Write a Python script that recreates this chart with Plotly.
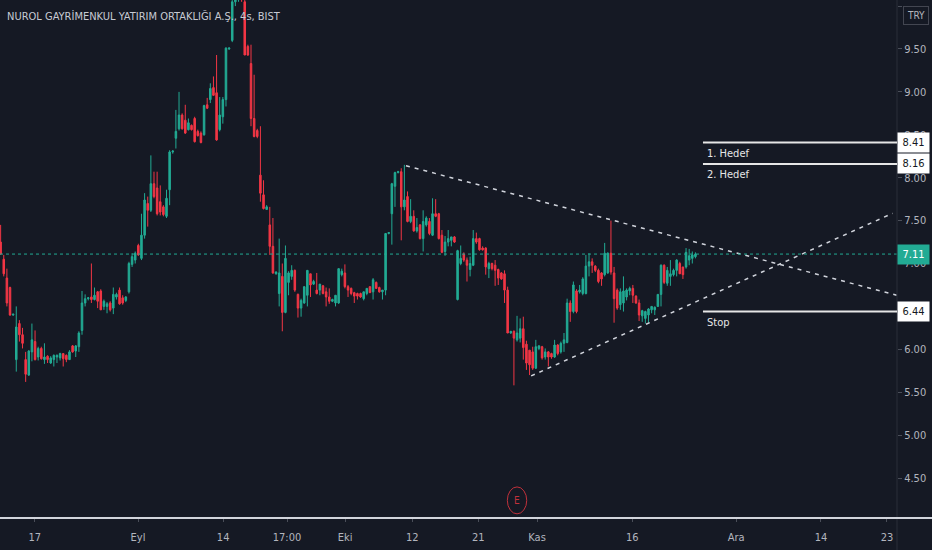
import plotly.graph_objects as go

# --- veri: 4 saatlik mumlar (grafikten okunan yaklaşık değerler) ---
opens = [
    7.25, 7.05, 6.83, 6.72, 6.40, 5.88, 6.30, 6.17, 5.88, 5.70,
    5.97, 6.09, 5.91, 6.01, 5.88, 5.92, 5.84, 5.88, 5.91, 5.90,
    5.95, 5.93, 5.88, 6.04, 5.98, 6.03, 6.22, 6.54, 6.59, 6.61,
    6.58, 6.67, 6.68, 6.50, 6.50, 6.54, 6.48, 6.61, 6.69, 6.60,
    6.57, 6.67, 6.99, 7.04, 7.21, 7.06, 7.33, 7.70, 7.62, 7.93,
    7.88, 7.72, 7.66, 7.55, 7.86, 8.30, 8.46, 8.57, 8.73, 8.67,
    8.56, 8.61, 8.69, 8.54, 8.52, 8.50, 8.85, 8.91, 9.05, 8.99,
    8.56, 8.71, 8.91, 9.50, 9.60, 10.05, 10.10, 10.15, 10.05, 9.53,
    9.33, 8.69, 8.55, 8.03, 7.80, 7.63, 7.45, 7.20, 6.88, 6.65,
    6.85, 6.43, 6.78, 6.85, 6.92, 6.64, 6.48, 6.54, 6.63, 6.88,
    6.76, 6.69, 6.69, 6.74, 6.67, 6.61, 6.56, 6.54, 6.54, 6.87,
    6.89, 6.73, 6.71, 6.66, 6.65, 6.65, 6.59, 6.65, 6.73, 6.67,
    6.78, 6.72, 6.67, 6.69, 7.35, 7.58, 7.90, 8.06, 8.07, 7.66,
    7.78, 7.49, 7.55, 7.38, 7.45, 7.29, 7.45, 7.49, 7.33, 7.58,
    7.58, 7.33, 7.14, 7.25, 7.27, 7.31, 6.58, 7.00, 7.11, 7.04,
    6.93, 6.98, 7.29, 7.29, 7.18, 7.18, 6.94, 7.00, 6.98, 6.93,
    6.89, 6.88, 6.69, 6.19, 6.21, 6.11, 6.13, 6.24, 6.06, 5.99,
    5.97, 5.78, 6.01, 6.03, 5.91, 5.97, 5.95, 5.91, 6.05, 5.97,
    6.07, 6.08, 6.54, 6.44, 6.68, 6.67, 6.65, 6.65, 6.97, 7.02,
    6.97, 6.92, 6.89, 6.87, 6.89, 7.12, 6.89, 6.69, 6.52, 6.54,
    6.61, 6.68, 6.71, 6.62, 6.54, 6.39, 6.36, 6.40, 6.46, 6.46,
    6.50, 6.64, 6.98, 6.77, 6.85, 6.87, 6.92, 7.00, 6.96, 6.96,
    7.04, 7.06, 7.08,
]
highs = [
    7.45, 7.10, 6.94, 6.73, 6.41, 6.50, 6.34, 6.25, 5.97, 5.99,
    6.30, 6.22, 6.03, 6.03, 6.07, 5.93, 5.92, 5.94, 5.94, 5.96,
    5.95, 5.94, 5.99, 6.05, 6.05, 6.21, 6.68, 6.64, 6.61, 7.00,
    6.72, 6.68, 6.70, 6.58, 6.55, 6.56, 6.72, 6.66, 6.72, 6.63,
    6.62, 7.02, 7.12, 7.14, 7.23, 7.58, 7.82, 7.78, 8.26, 8.07,
    8.07, 7.91, 7.68, 7.86, 8.32, 8.32, 8.79, 9.00, 8.75, 8.85,
    8.69, 8.62, 8.71, 8.56, 8.54, 8.85, 8.93, 9.10, 9.18, 9.43,
    8.94, 8.94, 9.52, 9.52, 10.20, 10.25, 10.30, 10.30, 10.15, 9.55,
    9.55, 9.20, 8.57, 8.60, 7.97, 7.68, 7.66, 7.53, 6.91, 7.29,
    7.00, 7.21, 6.91, 6.98, 6.93, 6.65, 6.59, 6.73, 6.92, 6.88,
    6.81, 6.89, 6.76, 6.75, 6.72, 6.71, 6.59, 6.63, 6.94, 6.94,
    6.99, 6.75, 6.72, 6.67, 6.66, 6.66, 6.66, 6.71, 6.73, 6.83,
    6.79, 6.73, 6.68, 7.35, 7.36, 7.94, 8.07, 8.08, 8.11, 8.15,
    7.84, 7.75, 7.62, 7.53, 7.46, 7.62, 7.55, 7.53, 7.76, 7.75,
    7.59, 7.39, 7.32, 7.39, 7.30, 7.32, 7.16, 7.21, 7.13, 7.07,
    7.08, 7.39, 7.36, 7.30, 7.20, 7.19, 7.02, 7.01, 7.04, 6.94,
    6.90, 6.92, 6.73, 6.21, 6.22, 6.39, 6.36, 6.38, 6.10, 5.99,
    6.03, 6.11, 6.05, 6.04, 6.01, 5.98, 5.96, 6.11, 6.06, 6.09,
    6.19, 6.59, 6.57, 6.79, 6.70, 6.75, 6.84, 7.10, 7.12, 7.06,
    6.98, 6.94, 6.90, 7.24, 7.13, 7.50, 6.96, 6.71, 6.71, 6.85,
    6.71, 6.73, 6.75, 6.63, 6.58, 6.46, 6.45, 6.48, 6.50, 6.50,
    6.64, 6.99, 6.99, 6.96, 7.04, 6.94, 7.05, 7.02, 6.96, 7.18,
    7.17, 7.14, 7.13,
]
lows = [
    7.10, 6.85, 6.50, 6.39, 6.39, 5.74, 6.09, 6.01, 5.62, 5.69,
    5.86, 5.87, 5.87, 5.88, 5.83, 5.84, 5.83, 5.80, 5.84, 5.87,
    5.80, 5.85, 5.88, 5.96, 5.91, 5.97, 6.17, 6.50, 6.57, 6.54,
    6.57, 6.48, 6.46, 6.46, 6.42, 6.44, 6.41, 6.58, 6.52, 6.52,
    6.55, 6.65, 6.96, 7.00, 7.09, 7.04, 7.29, 7.43, 7.60, 7.76,
    7.56, 7.56, 7.55, 7.53, 7.68, 8.28, 8.34, 8.55, 8.56, 8.51,
    8.55, 8.55, 8.41, 8.48, 8.40, 8.49, 8.80, 8.87, 8.96, 8.43,
    8.54, 8.63, 8.83, 9.49, 9.58, 10.00, 10.05, 10.05, 9.43, 9.42,
    8.60, 8.47, 8.46, 7.72, 7.63, 7.63, 7.10, 6.88, 6.87, 6.50,
    6.21, 6.42, 6.63, 6.81, 6.67, 6.37, 6.38, 6.53, 6.50, 6.61,
    6.75, 6.64, 6.63, 6.64, 6.50, 6.53, 6.55, 6.50, 6.53, 6.85,
    6.71, 6.61, 6.63, 6.54, 6.58, 6.60, 6.57, 6.63, 6.66, 6.58,
    6.71, 6.66, 6.58, 6.63, 7.34, 7.22, 7.66, 8.05, 7.27, 7.62,
    7.48, 7.47, 7.37, 7.36, 7.28, 7.14, 7.43, 7.33, 7.32, 7.54,
    7.28, 7.12, 7.09, 7.20, 7.20, 7.24, 6.57, 6.98, 7.02, 6.79,
    6.85, 6.97, 7.23, 7.15, 7.15, 6.87, 6.83, 6.92, 6.74, 6.75,
    6.81, 6.54, 6.19, 6.18, 5.58, 6.09, 6.08, 5.88, 5.76, 5.70,
    5.76, 5.77, 5.99, 5.88, 5.88, 5.80, 5.89, 5.90, 5.93, 5.95,
    5.97, 6.07, 6.32, 6.42, 6.42, 6.65, 6.63, 6.64, 6.85, 6.89,
    6.90, 6.77, 6.74, 6.85, 6.88, 6.87, 6.31, 6.46, 6.46, 6.44,
    6.57, 6.63, 6.54, 6.53, 6.33, 6.32, 6.30, 6.31, 6.42, 6.40,
    6.50, 6.50, 6.76, 6.74, 6.74, 6.85, 6.85, 6.88, 6.82, 6.94,
    6.98, 7.00, 7.06,
]
closes = [
    7.11, 6.88, 6.54, 6.40, 6.41, 6.26, 6.17, 6.07, 5.71, 5.98,
    6.11, 5.88, 6.01, 5.89, 5.91, 5.88, 5.90, 5.93, 5.93, 5.95,
    5.89, 5.88, 5.97, 5.97, 6.04, 6.19, 6.54, 6.59, 6.60, 6.58,
    6.63, 6.56, 6.46, 6.56, 6.53, 6.46, 6.64, 6.64, 6.53, 6.54,
    6.61, 7.00, 7.08, 7.12, 7.10, 7.33, 7.74, 7.62, 7.93, 7.78,
    7.58, 7.60, 7.57, 7.76, 8.30, 8.31, 8.54, 8.73, 8.57, 8.52,
    8.64, 8.56, 8.42, 8.49, 8.41, 8.84, 8.81, 9.04, 8.96, 8.44,
    8.73, 8.91, 9.51, 9.51, 10.05, 10.12, 10.15, 10.08, 9.43, 9.43,
    8.69, 8.48, 8.48, 7.82, 7.64, 7.66, 7.20, 6.89, 6.90, 6.89,
    6.43, 7.06, 6.89, 6.92, 6.69, 6.48, 6.57, 6.73, 6.92, 6.75,
    6.79, 6.65, 6.76, 6.65, 6.61, 6.56, 6.58, 6.63, 6.94, 6.91,
    6.73, 6.69, 6.65, 6.62, 6.62, 6.61, 6.67, 6.71, 6.66, 6.81,
    6.71, 6.67, 6.69, 7.35, 7.36, 7.93, 8.06, 8.07, 7.66, 7.74,
    7.49, 7.55, 7.38, 7.42, 7.29, 7.49, 7.53, 7.35, 7.58, 7.55,
    7.29, 7.13, 7.25, 7.29, 7.31, 7.25, 7.15, 7.06, 7.04, 6.98,
    7.00, 7.29, 7.25, 7.16, 7.16, 6.96, 7.00, 6.94, 6.92, 6.83,
    6.82, 6.69, 6.19, 6.21, 6.13, 6.19, 6.24, 6.02, 5.84, 5.82,
    5.78, 6.03, 6.04, 5.90, 5.97, 5.91, 5.91, 6.05, 5.95, 6.07,
    6.11, 6.54, 6.44, 6.75, 6.44, 6.69, 6.82, 6.97, 7.02, 6.98,
    6.92, 6.79, 6.82, 7.12, 7.12, 6.90, 6.59, 6.48, 6.67, 6.68,
    6.69, 6.71, 6.63, 6.54, 6.40, 6.45, 6.44, 6.47, 6.50, 6.49,
    6.64, 6.98, 6.78, 6.92, 6.88, 6.92, 7.04, 6.88, 6.87, 7.13,
    7.09, 7.10, 7.11,
]

# x ekseni etiketleri (bar sırası -> etiket)
tick_bars = [10.9, 43.9, 71.1, 91.5, 110.1, 131.5, 152.6, 171.4, 201.8, 235.0, 262.1, 283.2]
tick_text = ["17", "Eyl", "14", "17:00", "Eki", "12", "21", "Kas", "16", "Ara", "14", "23"]

# seviyeler
last_price = 7.11
levels = [8.41, 8.16, 6.44]
level_names = ["1. Hedef", "2. Hedef", "Stop"]

# üçgen trend çizgileri (bar, fiyat)
upper_x = [129.5, 286.3]
upper_y = [8.14, 6.63]
lower_x = [169.5, 285.0]
lower_y = [5.69, 7.585]

event_bar = 165.0

BG = "#151924"
TEAL = "#22ab94"
RED = "#f23645"
TXT = "#b2b5be"
FONT = "Liberation Sans Narrow, DejaVu Sans Condensed, Roboto, sans-serif"

fig = go.Figure()
fig.add_trace(go.Candlestick(
    x=list(range(len(closes))),
    open=opens, high=highs, low=lows, close=closes,
    increasing=dict(line=dict(color=TEAL, width=1), fillcolor=TEAL),
    decreasing=dict(line=dict(color=RED, width=1), fillcolor=RED),
    whiskerwidth=0, showlegend=False, hoverinfo="skip",
))

for xs, ys in [(upper_x, upper_y), (lower_x, lower_y)]:
    fig.add_trace(go.Scatter(
        x=xs, y=ys, mode="lines", showlegend=False, hoverinfo="skip",
        line=dict(color="#d1d4dc", width=1.5, dash="4px,5px"),
    ))

shapes = [
    # son fiyat çizgisi
    dict(type="line", xref="paper", x0=0, x1=1, yref="y", y0=last_price, y1=last_price,
         line=dict(color=TEAL, width=1, dash="dot")),
    # sağ eksen çizgisi
    dict(type="line", xref="paper", x0=1, x1=1, yref="paper", y0=-0.07, y1=1,
         line=dict(color="#2a2e39", width=1)),
    # alt ayraç
    dict(type="line", xref="paper", x0=0, x1=1.04, yref="paper", y0=0, y1=0,
         line=dict(color="#d1d4dc", width=2)),
    # E olayı
    dict(type="circle", xref="x", yref="paper", x0=event_bar - 3.1, x1=event_bar + 3.1,
         y0=0.008, y1=0.06, line=dict(color="#c0313b", width=1)),
]
for lv in levels:
    shapes.append(dict(type="line", xref="paper", x0=0.7837, x1=1, yref="y", y0=lv, y1=lv,
                       line=dict(color="#e6e6e6", width=2)))

ann = [
    dict(text="NUROL GAYRİMENKUL YATIRIM ORTAKLIĞI A.Ş., 4s, BIST", xref="paper", yref="paper",
         x=0.006, y=0.969, xanchor="left", yanchor="middle", showarrow=False,
         font=dict(family=FONT, size=11, color="#c7cad3")),
    dict(text="E", xref="x", yref="paper", x=event_bar, y=0.034, yanchor="middle", showarrow=False,
         font=dict(family=FONT, size=10, color="#c0313b")),
    dict(text="TRY", xref="paper", yref="paper", x=1.007, y=0.971, xanchor="left", yanchor="middle",
         showarrow=False, bordercolor="#434651", borderwidth=1, borderpad=3,
         font=dict(family=FONT, size=10, color=TXT)),
    dict(text=f"{last_price:.2f}", xref="paper", yref="y", x=1, y=last_price, xanchor="left",
         yanchor="middle", showarrow=False, bgcolor=TEAL, width=29, height=17,
         font=dict(family=FONT, size=11, color="white")),
]
for lv, name in zip(levels, level_names):
    ann.append(dict(text=f"{lv:.2f}", xref="paper", yref="y", x=1, y=lv, xanchor="left",
                    yanchor="middle", showarrow=False, bgcolor="white", width=29, height=17,
                    font=dict(family=FONT, size=11, color="#131722")))
    ann.append(dict(text=name, xref="paper", yref="y", x=0.786, y=lv, xanchor="left",
                    yanchor="top", yshift=-2, showarrow=False,
                    font=dict(family=FONT, size=11, color="#e6e6e6")))

fig.update_layout(
    width=932, height=550,
    margin=dict(l=0, r=35, t=0, b=32),
    paper_bgcolor=BG, plot_bgcolor=BG,
    shapes=shapes, annotations=ann,
    xaxis=dict(range=[-0.2, 286.4], rangeslider=dict(visible=False), showgrid=False,
               zeroline=False, tickmode="array", tickvals=tick_bars, ticktext=tick_text,
               ticks="outside", ticklen=3, tickcolor="#4a4e59", ticklabelstandoff=6,
               tickfont=dict(family=FONT, size=11, color=TXT)),
    yaxis=dict(side="right", range=[4.034, 10.071], showgrid=False, zeroline=False,
               tickmode="array", tickvals=[4.5, 5, 5.5, 6, 6.5, 7, 7.5, 8, 8.5, 9, 9.5, 10],
               tickformat=".2f", ticks="outside", ticklen=4, tickcolor="#4a4e59",
               tickfont=dict(family=FONT, size=11, color=TXT)),
)

fig.write_html("out.html", config={"displayModeBar": False},
               post_script="document.body.style.margin='0';")
